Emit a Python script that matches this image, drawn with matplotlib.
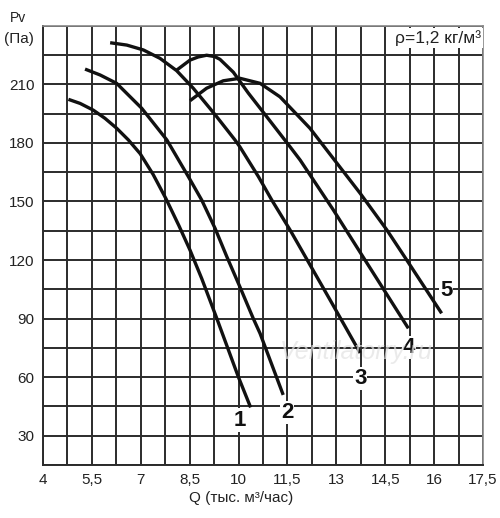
import matplotlib
matplotlib.use("Agg")
import matplotlib.pyplot as plt
import numpy as np

plt.rcParams['font.family'] = ['Liberation Sans', 'DejaVu Sans']

# curve points (Q in thousand m3/h, Pv in Pa)
q1 = [4.78, 5.14, 5.54, 5.90, 6.26, 6.62, 6.98, 7.38, 7.77, 8.17, 8.51, 8.87, 9.33, 9.99, 10.37]
p1 = [202.3, 200.2, 196.8, 192.6, 187.5, 181.5, 174.5, 163.8, 151.5, 137.6, 125.1, 110.5, 90.2, 60.3, 44.5]

q2 = [5.29, 5.75, 6.26, 7.03, 7.80, 8.46, 8.87, 9.28, 9.64, 10.04, 10.45, 10.66, 11.37]
p2 = [217.8, 214.8, 210.5, 197.7, 181.5, 162.7, 150.7, 136.2, 121.7, 106.3, 90.1, 82.4, 50.9]

q3 = [6.06, 6.57, 7.08, 7.59, 8.10, 8.61, 9.12, 9.33, 9.89, 10.04, 10.61, 11.02, 11.58, 12.81, 13.73]
p3 = [231.3, 230.1, 227.6, 223.3, 217.0, 208.0, 197.7, 193.4, 181.5, 178.0, 162.7, 150.7, 135.4, 99.5, 72.4]

q4 = [8.08, 8.51, 8.76, 9.02, 9.27, 9.43, 9.84, 10.30, 10.86, 11.58, 11.89, 12.91, 13.88, 15.21]
p4 = [217.0, 222.4, 224.0, 224.9, 224.2, 222.8, 216.2, 205.5, 193.5, 178.0, 171.2, 145.6, 120.0, 85.0]

q5 = [8.51, 9.02, 9.53, 10.04, 10.66, 11.27, 12.19, 13.73, 14.55, 15.16, 16.23]
p5 = [201.6, 208.0, 211.8, 213.1, 210.5, 203.6, 187.5, 154.2, 135.4, 120.0, 92.7]

curves = [(q1, p1), (q2, p2), (q3, p3), (q4, p4), (q5, p5)]
labels = ["1", "2", "3", "4", "5"]
label_pos = [(10.04, 38), (11.49, 42), (13.73, 59.5), (15.23, 75), (16.37, 104.5)]

xticks = [4, 5.5, 7, 8.5, 10, 11.5, 13, 14.5, 16, 17.5]
xticklabels = ["4", "5,5", "7", "8,5", "10", "11,5", "13", "14,5", "16", "17,5"]
yticks = [30, 60, 90, 120, 150, 180, 210]

fig = plt.figure(figsize=(5.0, 5.18), dpi=100)
ax = fig.add_axes([0.086, 0.1023, 0.88, 0.848])
ax.set_xlim(4, 17.5)
ax.set_ylim(15, 240)

# grid
for gx in np.arange(4, 17.5 + 0.01, 0.75):
    ax.axvline(gx, color="#2b2b2b", lw=1.4, zorder=1)
for gy in np.arange(15, 240 + 0.01, 15):
    ax.axhline(gy, color="#2b2b2b", lw=1.4, zorder=1)

for q, p in curves:
    ax.plot(q, p, color="#111111", lw=2.4, solid_capstyle="butt",
            solid_joinstyle="round", zorder=3)

for lab, (lx, ly) in zip(labels, label_pos):
    ax.text(lx, ly, lab, fontsize=16, fontweight="bold", ha="center", va="center",
            color="#111111", zorder=4,
            bbox=dict(facecolor="white", edgecolor="none", pad=0.8))

ax.text(0.995, 0.99, "ρ=1,2 кг/м³", transform=ax.transAxes, ha="right", va="top",
        fontsize=12.5, color="#222222", zorder=4,
        bbox=dict(facecolor="white", edgecolor="none", pad=1.5))

ax.text(13.6, 73, "Ventilatorry.ru", fontsize=18, style="italic", color="#e2e2e2",
        ha="center", va="center", alpha=0.7, zorder=5)

ax.set_xticks(xticks)
ax.set_xticklabels(xticklabels)
ax.set_yticks(yticks)
ax.tick_params(length=0, labelsize=11, pad=6, colors="#222222")
for side in ["left", "bottom"]:
    ax.spines[side].set_color("#2b2b2b")
    ax.spines[side].set_linewidth(1.4)
for side in ["right", "top"]:
    ax.spines[side].set_color("#888888")
    ax.spines[side].set_linewidth(1.2)

fig.text(0.036, 0.965, "Pv", fontsize=10, ha="center", va="center", color="#222222")
fig.text(0.038, 0.925, "(Па)", fontsize=11, ha="center", va="center", color="#222222")
fig.text(0.482, 0.039, "Q (тыс. м³/час)", fontsize=11, ha="center", va="center",
         color="#222222")

fig.savefig("out.png", dpi=100)
